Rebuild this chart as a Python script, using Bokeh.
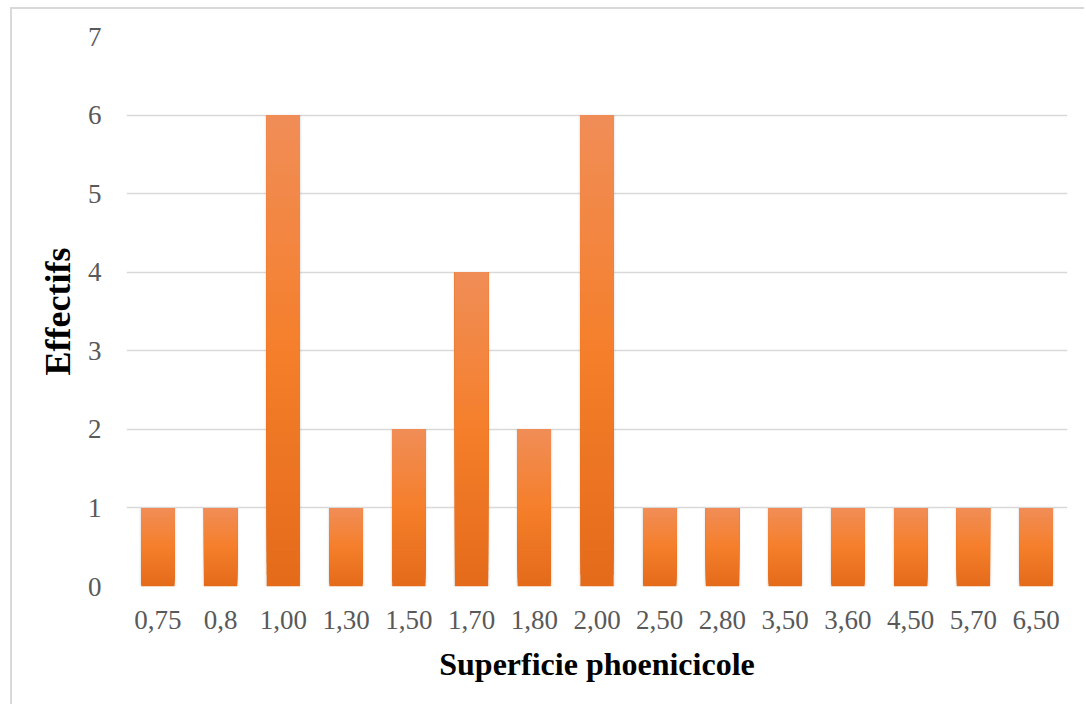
from bokeh.plotting import figure
from bokeh.models import FactorRange, Range1d, FixedTicker, ColumnDataSource
from bokeh.embed import file_html
from bokeh.resources import INLINE

# ---- data ----
categories = ["0,75", "0,8", "1,00", "1,30", "1,50", "1,70", "1,80", "2,00",
              "2,50", "2,80", "3,50", "3,60", "4,50", "5,70", "6,50"]
effectifs = [1, 1, 6, 1, 2, 4, 2, 6, 1, 1, 1, 1, 1, 1, 1]
y_ticks = [0, 1, 2, 3, 4, 5, 6, 7]

FONT = "Liberation Serif"

# gradient colour stops (bottom -> middle -> top)
stops = [(0.0, (0xE3, 0x6A, 0x1A)), (0.5, (0xF5, 0x7F, 0x2B)), (1.0, (0xF0, 0x8D, 0x57))]

def grad(t):
    for (t0, c0), (t1, c1) in zip(stops[:-1], stops[1:]):
        if t <= t1:
            f = (t - t0) / (t1 - t0)
            c = [round(a + (b - a) * f) for a, b in zip(c0, c1)]
            return "#%02x%02x%02x" % tuple(c)
    return "#%02x%02x%02x" % stops[-1][1]

# each bar painted as overlapping layers (layer k spans from k/N of its height to the top)
N = 40
sx, sb, st, sc = [], [], [], []
for k in range(N):
    for cat, v in zip(categories, effectifs):
        sx.append(cat)
        sb.append(v * k / N)
        st.append(v)
        sc.append(grad((k + 0.5) / N))
slices = ColumnDataSource(dict(x=sx, bottom=sb, top=st, color=sc))
bars = ColumnDataSource(dict(x=categories, top=effectifs))

p = figure(x_range=FactorRange(*categories), y_range=Range1d(0, 7),
           width=1074, height=697, output_backend="svg", toolbar_location=None,
           min_border_left=114, min_border_right=19, min_border_top=27, min_border_bottom=120)
p.styles = {"margin-left": "10px", "margin-top": "7px",
            "border-left": "2px solid #d9d9d9", "border-top": "2px solid #d9d9d9"}
p.outline_line_color = None
p.background_fill_color = "white"
p.border_fill_color = "white"

# shadows
p.vbar(x="x", top="top", bottom=-0.03, width=0.60, source=bars,
       fill_color="#808080", fill_alpha=0.06, line_color=None)
p.vbar(x="x", top="top", bottom=-0.015, width=0.565, source=bars,
       fill_color="#808080", fill_alpha=0.10, line_color=None)
# gradient bars
p.vbar(x="x", bottom="bottom", top="top", width=0.53, source=slices,
       fill_color="color", line_color=None)

p.xgrid.grid_line_color = None
p.ygrid.grid_line_color = "#d9d9d9"
p.ygrid.grid_line_width = 1.5
p.ygrid.level = "underlay"

p.yaxis.ticker = FixedTicker(ticks=y_ticks)
for ax in (p.xaxis[0], p.yaxis[0]):
    ax.axis_line_color = None
    ax.major_tick_line_color = None
    ax.minor_tick_line_color = None
    ax.major_label_text_font = FONT
    ax.major_label_text_font_size = "27px"
    ax.major_label_text_color = "#595959"
    ax.axis_label_text_font = FONT
    ax.axis_label_text_font_style = "bold"
    ax.axis_label_text_color = "black"

p.yaxis.axis_label = "Effectifs"
p.yaxis.axis_label_text_font_size = "36px"
p.yaxis.major_label_standoff = 19
p.yaxis.axis_label_standoff = 7

p.xaxis.axis_label = "Superficie phoenicicole"
p.xaxis.axis_label_text_font_size = "32px"
p.xaxis.major_label_standoff = 18
p.xaxis.axis_label_standoff = 14
p.xaxis.group_text_font_size = "0px"

open("out.html", "w").write(file_html(p, INLINE))
